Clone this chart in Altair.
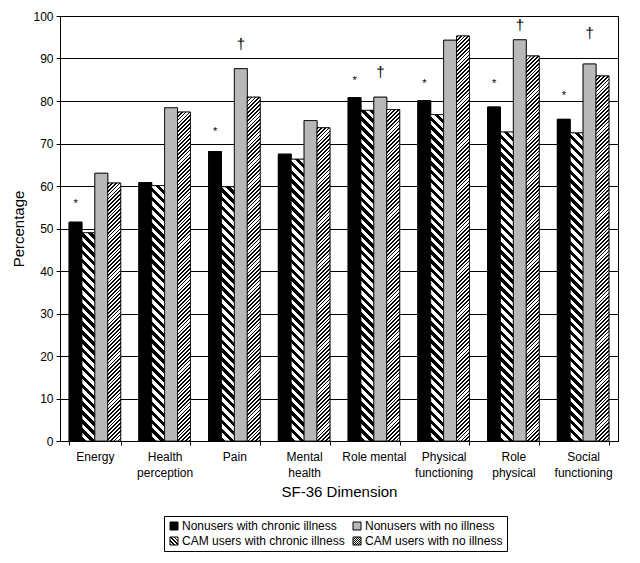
import math
import altair as alt

# ---------------- data ----------------
categories = ["Energy", "Health perception", "Pain", "Mental health",
              "Role mental", "Physical functioning", "Role physical", "Social functioning"]
tick_labels = [["Energy"], ["Health", "perception"], ["Pain"], ["Mental", "health"],
               ["Role mental"], ["Physical", "functioning"], ["Role", "physical"], ["Social", "functioning"]]
series = ["Nonusers with chronic illness", "CAM users with chronic illness",
          "Nonusers with no illness", "CAM users with no illness"]

nonusers_chronic = [51.5, 60.8, 68.1, 67.5, 80.8, 80.1, 78.6, 75.7]
cam_chronic = [49.0, 60.1, 59.8, 66.3, 77.8, 76.8, 72.7, 72.5]
nonusers_none = [63.0, 78.4, 87.6, 75.4, 80.9, 94.3, 94.4, 88.7]
cam_none = [60.7, 77.4, 80.9, 73.7, 78.0, 95.3, 90.6, 85.9]

star_categories = ["Energy", "Pain", "Role mental", "Physical functioning", "Role physical", "Social functioning"]
star_y = [56.5, 73.3, 85.4, 84.6, 84.6, 81.9]
dagger_categories = ["Pain", "Role mental", "Role physical", "Social functioning"]
dagger_y = [93.5, 86.8, 97.8, 96.0]

# ---------------- layout / style ----------------
W, H = 558, 425
PAD_IN, PAD_OUT = 0.26, 0.13
step = W / (len(categories) - PAD_IN + 2 * PAD_OUT)
bar_w = step * (1 - PAD_IN) / len(series)
BLACK, GRAY = "#000000", "#b8b8b8"


def stripes(w, h, period, frac, direction):
    L = w + h
    m = L / (w * w + h * h)
    if direction == "back":  # "\" stripes
        x1, y1, x2, y2 = 0, 1, m * w, 1 - m * h
    else:  # "/" stripes
        x1, y1, x2, y2 = 0, 0, m * w, m * h
    P = period * math.sqrt(2) / L
    stops = []
    k = 0
    while k * P < 1:
        a = k * P
        b = min(a + frac * P, 1)
        c = min((k + 1) * P, 1)
        stops += [{"offset": round(a, 5), "color": BLACK}, {"offset": round(b, 5), "color": BLACK},
                  {"offset": round(b, 5), "color": "#ffffff"}, {"offset": round(c, 5), "color": "#ffffff"}]
        k += 1
    return {"gradient": "linear", "x1": round(x1, 5), "y1": round(y1, 5),
            "x2": round(x2, 5), "y2": round(y2, 5), "stops": stops}


def grad_expr(g):
    stops = ",".join("{offset:%s,color:'%s'}" % (s["offset"], s["color"]) for s in g["stops"])
    return "{gradient:'linear',x1:%s,y1:%s,x2:%s,y2:%s,stops:[%s]}" % (
        g["x1"], g["y1"], g["x2"], g["y2"], stops)


values_by_series = [nonusers_chronic, cam_chronic, nonusers_none, cam_none]
rows = []
for j, s in enumerate(series):
    for i, c in enumerate(categories):
        v = values_by_series[j][i]
        h = v / 100 * H
        if j == 0:
            f = BLACK
        elif j == 1:
            f = stripes(bar_w, h, 6.3, 0.5, "back")
        elif j == 2:
            f = GRAY
        else:
            f = stripes(bar_w, h, 2.7, 0.45, "fwd")
        rows.append({"category": c, "series": s, "value": v, "fill": f})

star_rows = [{"category": c, "series": series[0], "y": y, "t": "*"} for c, y in zip(star_categories, star_y)]
dagger_rows = [{"category": c, "series": series[2], "y": y, "t": "\u2020"} for c, y in zip(dagger_categories, dagger_y)]

# nested ternary giving multi-line tick labels
label_expr = "datum.value"
for c, parts in reversed(list(zip(categories, tick_labels))):
    arr = "[" + ",".join("'%s'" % p for p in parts) + "]"
    label_expr = "datum.value === '%s' ? %s : (%s)" % (c, arr, label_expr)

legend_range = [BLACK, alt.ExprRef(grad_expr(stripes(8, 8, 2.6, 0.5, "back"))),
                GRAY, alt.ExprRef(grad_expr(stripes(8, 8, 1.5, 0.45, "fwd")))]

x_enc = alt.X("category:N", sort=categories,
              scale=alt.Scale(domain=categories, paddingInner=PAD_IN, paddingOuter=PAD_OUT),
              axis=alt.Axis(title="SF-36 Dimension", labelAngle=0, labelExpr=label_expr,
                            labelFontSize=12, labelLineHeight=16, labelPadding=6,
                            tickBand="extent", tickSize=4, titleFontSize=15,
                            titleFontWeight="normal", titlePadding=6, labelColor="black",
                            titleColor="black", domainColor="black", tickColor="black"))
xo_enc = alt.XOffset("series:N", scale=alt.Scale(domain=series, paddingInner=0, paddingOuter=0))
y_scale = alt.Scale(domain=[0, 100], nice=False)

bars_legend = alt.Chart(alt.Data(values=rows)).mark_bar(stroke="black", strokeWidth=0.8).encode(
    x=x_enc,
    xOffset=xo_enc,
    y=alt.Y("value:Q", scale=y_scale,
            axis=alt.Axis(title="Percentage", values=list(range(0, 101, 10)), grid=True,
                          gridColor="black", gridWidth=1, tickSize=4, labelPadding=3,
                          titlePadding=6, labelFontSize=12, titleFontSize=15,
                          titleFontWeight="normal", labelColor="black", titleColor="black",
                          domainColor="black", tickColor="black")),
    fill=alt.Fill("series:N", scale=alt.Scale(domain=series, range=legend_range),
                  legend=alt.Legend(title=None, orient="none", legendX=104, legendY=500,
                                    columns=2, labelFontSize=12, labelColor="black",
                                    symbolType="square", symbolSize=64,
                                    symbolStrokeColor="black", symbolStrokeWidth=1,
                                    strokeColor="black", fillColor="white", padding=4,
                                    rowPadding=3, columnPadding=6, labelOffset=2,
                                    labelLimit=0)),
)

bars_pattern = alt.Chart(alt.Data(values=rows)).mark_bar(stroke="black", strokeWidth=0.8).encode(
    x=x_enc,
    xOffset=xo_enc,
    y=alt.Y("value:Q", scale=y_scale),
    color=alt.Color("fill:N", scale=None),
)

stars = alt.Chart(alt.Data(values=star_rows)).mark_text(
    fontSize=11, baseline="alphabetic", dy=6, color="black").encode(
    x=x_enc, xOffset=xo_enc, y=alt.Y("y:Q", scale=y_scale), text="t:N")

daggers = alt.Chart(alt.Data(values=dagger_rows)).mark_text(
    fontSize=15, baseline="alphabetic", dy=5, color="black").encode(
    x=x_enc, xOffset=xo_enc, y=alt.Y("y:Q", scale=y_scale), text="t:N")

chart = alt.layer(bars_legend, bars_pattern, stars, daggers).properties(
    width=W, height=H,
    padding={"left": 3, "top": 2, "right": 5, "bottom": 2},
).configure(font="Liberation Sans").configure_view(stroke="black", strokeWidth=1)

chart.save("out.html", embed_options={"renderer": "svg", "actions": False})
